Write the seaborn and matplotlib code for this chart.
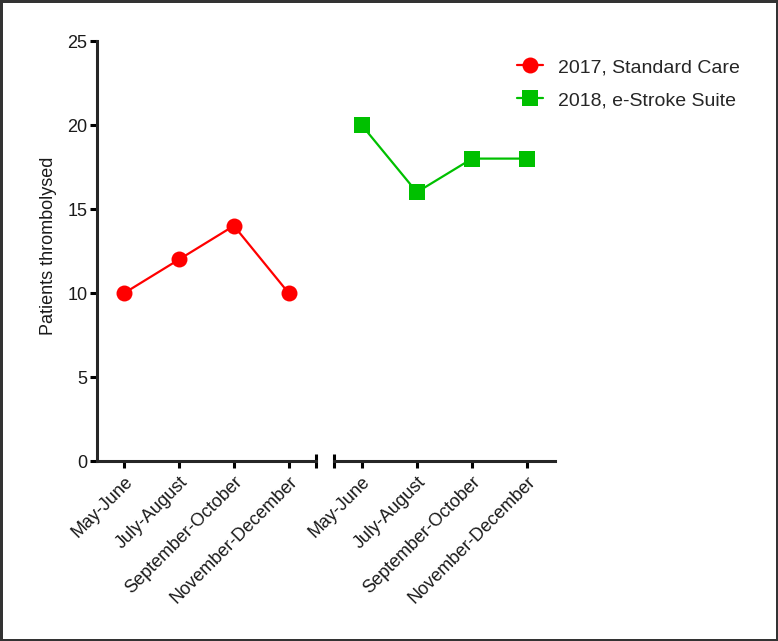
import matplotlib
matplotlib.use("Agg")
import matplotlib.pyplot as plt
import pandas as pd
import seaborn as sns

# periods and values
periods = ["May-June", "July-August", "September-October", "November-December"]
standard_2017 = [10, 12, 14, 10]
estroke_2018 = [20, 16, 18, 18]
label_2017 = "2017, Standard Care"
label_2018 = "2018, e-Stroke Suite"
y_ticks = [0, 5, 10, 15, 20, 25]

sns.set_theme(style="ticks")
plt.rcParams["font.family"] = ["Liberation Sans", "DejaVu Sans"]

df17 = pd.DataFrame({"pos": range(len(periods)), "n": standard_2017})
df18 = pd.DataFrame({"pos": range(len(periods)), "n": estroke_2018})

fig = plt.figure(figsize=(7.78, 6.41), dpi=100)
fig.patch.set_edgecolor("#333333")
fig.patch.set_linewidth(2.5)

ax1 = fig.add_axes([97 / 778, 1 - 461 / 641, 219 / 778, 420 / 641])
ax2 = fig.add_axes([334 / 778, 1 - 461 / 641, 221 / 778, 420 / 641], sharey=ax1)

sns.lineplot(data=df17, x="pos", y="n", ax=ax1, color="#ff0000", marker="o",
             markersize=11.5, markeredgewidth=0, linewidth=1.6, label=label_2017,
             legend=False)
sns.lineplot(data=df18, x="pos", y="n", ax=ax2, color="#00c000", marker="s",
             markersize=11.5, markeredgewidth=0, linewidth=1.6, label=label_2018,
             legend=False)

for ax in (ax1, ax2):
    ax.set_xlim(-0.5, 3.5)
    ax.set_xticks(range(len(periods)))
    ax.set_xticklabels(periods, rotation=45, ha="right", rotation_mode="anchor",
                       fontsize=13, color="#1a1a1a")
    ax.set_xlabel("")
    ax.set_ylabel("")
    ax.spines["top"].set_visible(False)
    ax.spines["right"].set_visible(False)
    ax.spines["bottom"].set_linewidth(2.2)
    ax.spines["left"].set_linewidth(2.2)
    ax.tick_params(axis="both", width=2.2, length=5, color="black", pad=4)
    ax.set_facecolor("none")

ax1.set_ylim(0, 25)
ax1.set_yticks(y_ticks)
ax1.tick_params(axis="y", labelsize=13, labelcolor="#1a1a1a", pad=2)
ax1.set_ylabel("Patients thrombolysed", fontsize=13, color="#1a1a1a")
ax1.yaxis.set_label_coords(-0.183, 0.512)

ax2.spines["left"].set_visible(False)
ax2.tick_params(axis="y", left=False, labelleft=False)

# break caps at the ends of the two x-axis pieces
ax1.plot([1], [0], marker="|", markersize=10, markeredgewidth=2.2, color="black",
         transform=ax1.transAxes, clip_on=False)
ax2.plot([0], [0], marker="|", markersize=10, markeredgewidth=2.2, color="black",
         transform=ax2.transAxes, clip_on=False)

h1, l1 = ax1.get_legend_handles_labels()
h2, l2 = ax2.get_legend_handles_labels()
fig.legend(h1 + h2, l1 + l2, loc="upper left", bbox_to_anchor=(0.6425, 0.936),
           frameon=False, fontsize=14, handlelength=1.3, handletextpad=0.8,
           labelspacing=0.8)

fig.savefig("out.png", dpi=100)
